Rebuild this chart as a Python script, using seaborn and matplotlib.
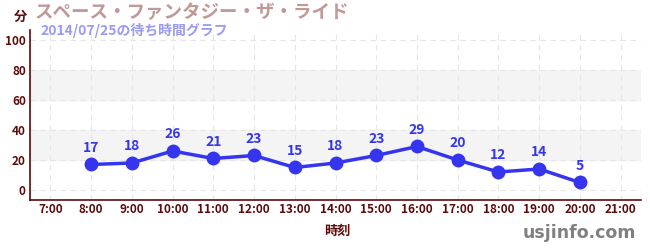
import matplotlib
matplotlib.use("Agg")
import matplotlib.pyplot as plt
import seaborn as sns
import pandas as pd
from matplotlib.ticker import MultipleLocator

hours = [8, 9, 10, 11, 12, 13, 14, 15, 16, 17, 18, 19, 20]
waits = [17, 18, 26, 21, 23, 15, 18, 23, 29, 20, 12, 14, 5]
tick_hours = list(range(7, 22))
tick_labels = [f"{h}:00" for h in tick_hours]
title = "スペース・ファンタジー・ザ・ライド"
subtitle = "2014/07/25の待ち時間グラフ"

sns.set_style("white")
plt.rcParams['font.family'] = ['Noto Sans CJK JP', 'DejaVu Sans']

df = pd.DataFrame({"hour": hours, "wait": waits})
dark = "#5c0a0a"
blue = "#3535f0"

fig = plt.figure(figsize=(6.5, 2.5), dpi=100)
ax = fig.add_axes([30/650, 50/250, 611/650, 170/250])

ax.axhspan(20, 40, color="#f4f4f4", zorder=0)
ax.axhspan(60, 80, color="#f4f4f4", zorder=0)

sns.lineplot(data=df, x="hour", y="wait", ax=ax, color=blue, linewidth=2.5,
             marker="o", markersize=10, markeredgewidth=0, zorder=3)
for h, w in zip(hours, waits):
    ax.annotate(str(w), (h, w), xytext=(0, 7), textcoords="offset points",
                ha="center", va="bottom", color=blue, fontsize=10, fontweight="bold")

ax.set_xlim(6.5, 21.5)
ax.set_ylim(-6.67, 106.67)
ax.set_xticks(tick_hours)
ax.set_xticklabels(tick_labels)
ax.set_yticks([0, 20, 40, 60, 80, 100])
ax.yaxis.set_minor_locator(MultipleLocator(10))
ax.tick_params(axis="both", which="major", colors=dark, labelsize=8.5, length=4, direction="inout")
ax.tick_params(axis="x", which="major", pad=0)
ax.tick_params(axis="y", which="major", pad=1)
ax.tick_params(axis="y", which="minor", colors="#cc2222", length=3, direction="inout")
for lbl in ax.get_xticklabels() + ax.get_yticklabels():
    lbl.set_fontweight("bold")
ax.grid(True, axis="both", which="major", color="#e6e6e6", linestyle=(0, (5, 4)), linewidth=0.8)
ax.set_axisbelow(True)
for s in ["top", "right"]:
    ax.spines[s].set_visible(False)
for s in ["left", "bottom"]:
    ax.spines[s].set_color(dark)
    ax.spines[s].set_linewidth(1.2)
ax.set_xlabel("")
ax.set_ylabel("")

fig.text(337/650, 1 - 231/250, "時刻", ha="center", va="center", color=dark, fontsize=9.5, fontweight="bold")
fig.text(20/650, 1 - 17/250, "分", ha="center", va="center", color=dark, fontsize=9.5, fontweight="bold")
fig.text(35/650, 1 - 13/250, title, ha="left", va="center", color="#c09898", fontsize=13.3, fontweight="bold")
fig.text(40/650, 1 - 31/250, subtitle, ha="left", va="center", color="#9a9af0", fontsize=10, fontweight="bold")
fig.text(636/650, 1 - 233/250, "usjinfo.com", ha="right", va="center", color="#808080", fontsize=12.5, fontweight="bold",
         family=["DejaVu Sans"])

fig.savefig("out.png", dpi=100)
